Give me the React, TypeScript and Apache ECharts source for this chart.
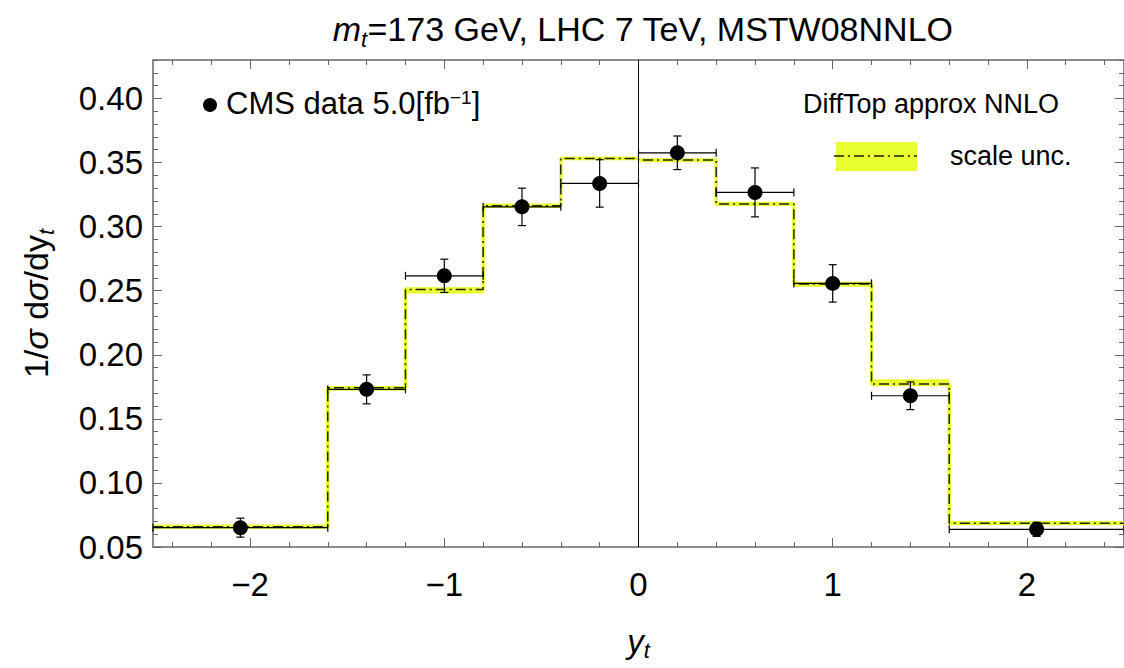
import React, { useEffect, useRef } from 'react';
import * as echarts from 'echarts';

// ---- data ----
const binEdges = [-2.5, -1.6, -1.2, -0.8, -0.4, 0, 0.4, 0.8, 1.2, 1.6, 2.5];
const theoryCentral = [0.0658, 0.1743, 0.2510, 0.3162, 0.3532, 0.3519, 0.3176, 0.2552, 0.1771, 0.0685];
const theoryLow = [0.0642, 0.1720, 0.2479, 0.3147, 0.3519, 0.3503, 0.3160, 0.2530, 0.1755, 0.0669];
const theoryHigh = [0.0676, 0.1756, 0.2526, 0.3181, 0.3545, 0.3530, 0.3193, 0.2569, 0.1808, 0.0703];
const dataX = [-2.05, -1.4, -1.0, -0.6, -0.2, 0.2, 0.6, 1.0, 1.4, 2.05];
const dataY = [0.0651, 0.1730, 0.2616, 0.3154, 0.3337, 0.3576, 0.3267, 0.2557, 0.1680, 0.0638];
const dataErr = [0.0074, 0.0113, 0.0130, 0.0146, 0.0185, 0.0131, 0.0191, 0.0146, 0.0108, 0.0055];
const xMajorTicks = [-2, -1, 0, 1, 2];
const yMajorTicks = [0.05, 0.10, 0.15, 0.20, 0.25, 0.30, 0.35, 0.40];
const xMinorTicks: number[] = [];
for (let i = -12; i <= 12; i++) xMinorTicks.push(+(i * 0.2).toFixed(2));
const yMinorTicks: number[] = [];
for (let i = 5; i <= 43; i++) yMinorTicks.push(+(i * 0.01).toFixed(2));

const X_MIN = -2.5, X_MAX = 2.5, Y_MIN = 0.05, Y_MAX = 0.43;
const FONT = "'Liberation Sans', Arial, Helvetica, sans-serif";
const YELLOW = '#eaff2e';
const FRAME = '#666666';
const DASHDOT = [10, 4, 2, 4];

function makeX(position: string, major: boolean, labels: boolean, extra: any = {}) {
  return {
    type: 'value', min: X_MIN, max: X_MAX, position, gridIndex: 0,
    axisLine: { show: major, onZero: false, lineStyle: { color: FRAME, width: 1.5 } },
    axisTick: { show: true, inside: true, length: major ? 9 : 5, customValues: major ? xMajorTicks : xMinorTicks, lineStyle: { color: FRAME, width: 1 } },
    axisLabel: labels ? {
      show: true, customValues: xMajorTicks, fontSize: 33, fontFamily: FONT, color: '#000', margin: 21,
      formatter: (v: number) => (v < 0 ? '\u2212' + Math.abs(v) : String(v)),
    } : { show: false },
    splitLine: { show: false },
    ...extra,
  };
}
function makeY(position: string, major: boolean, labels: boolean, extra: any = {}) {
  return {
    type: 'value', min: Y_MIN, max: Y_MAX, position, gridIndex: 0,
    axisLine: { show: major, onZero: false, lineStyle: { color: FRAME, width: 1.5 } },
    axisTick: { show: true, inside: true, length: major ? 9 : 5, customValues: major ? yMajorTicks : yMinorTicks, lineStyle: { color: FRAME, width: 1 } },
    axisLabel: labels ? {
      show: true, customValues: yMajorTicks, fontSize: 33, fontFamily: FONT, color: '#000', margin: 10,
      formatter: (v: number) => v.toFixed(2),
    } : { show: false },
    splitLine: { show: false },
    ...extra,
  };
}

export default function App() {
  const ref = useRef<HTMLDivElement>(null);
  useEffect(() => {
    if (!ref.current) return;
    const chart = echarts.init(ref.current, undefined, { renderer: 'svg' });

    const stepPts: number[][] = [];
    theoryCentral.forEach((v, i) => {
      stepPts.push([binEdges[i], v]);
      stepPts.push([binEdges[i + 1], v]);
    });
    const bandData = theoryCentral.map((_, i) => [binEdges[i], binEdges[i + 1], theoryLow[i], theoryHigh[i]]);
    const errData = dataX.map((x, i) => [x, dataY[i], dataErr[i], binEdges[i], binEdges[i + 1]]);
    const pts = dataX.map((x, i) => [x, dataY[i]]);

    const option: any = {
      animation: false,
      grid: { left: 153, top: 60, width: 972, height: 487, containLabel: false },
      xAxis: [
        makeX('bottom', true, true, {
          name: '{i|y}{sub|t}', nameLocation: 'middle', nameGap: 78,
          nameTextStyle: {
            fontFamily: FONT, fontSize: 33, color: '#000',
            rich: {
              i: { fontFamily: FONT, fontSize: 33, fontStyle: 'italic', lineHeight: 36, verticalAlign: 'top' },
              sub: { fontFamily: FONT, fontSize: 22, fontStyle: 'italic', lineHeight: 16, verticalAlign: 'bottom' },
            },
          },
        }),
        makeX('bottom', false, false),
        makeX('top', true, false),
        makeX('top', false, false),
      ],
      yAxis: [
        makeY('left', true, true, {
          name: '{a|1/}{s|\u03c3}{a| d}{s|\u03c3}{a|/dy}{sub|t}', nameLocation: 'middle', nameGap: 96, nameRotate: 90,
          nameTextStyle: {
            fontFamily: FONT, fontSize: 34, color: '#000',
            rich: {
              a: { fontFamily: FONT, fontSize: 34, lineHeight: 38, verticalAlign: 'top' },
              s: { fontFamily: FONT, fontSize: 34, fontStyle: 'italic', lineHeight: 38, verticalAlign: 'top' },
              sub: { fontFamily: FONT, fontSize: 22, fontStyle: 'italic', lineHeight: 17, verticalAlign: 'bottom' },
            },
          },
        }),
        makeY('left', false, false),
        makeY('right', true, false),
        makeY('right', false, false),
      ],
      graphic: [
        {
          type: 'text', x: 643, y: 31, z: 10,
          style: {
            text: '{i|m}{sub|t}{a|=173 GeV, LHC 7 TeV, MSTW08NNLO}',
            align: 'center', verticalAlign: 'middle', fill: '#000',
            fontFamily: FONT, fontSize: 34,
            rich: {
              i: { fontFamily: FONT, fontSize: 34, fontStyle: 'italic', lineHeight: 38, verticalAlign: 'top' },
              sub: { fontFamily: FONT, fontSize: 22, fontStyle: 'italic', lineHeight: 17, verticalAlign: 'bottom' },
              a: { fontFamily: FONT, fontSize: 34, lineHeight: 38, verticalAlign: 'top' },
            },
          },
        },
        { type: 'circle', shape: { cx: 210, cy: 105, r: 7 }, style: { fill: '#000' }, z: 10 },
        {
          type: 'text', x: 226, y: 106, z: 10,
          style: {
            text: '{a|CMS data 5.0[fb}{sup|\u22121}{a|]}',
            align: 'left', verticalAlign: 'middle', fill: '#000',
            fontFamily: FONT, fontSize: 31,
            rich: {
              a: { fontFamily: FONT, fontSize: 31, lineHeight: 36, verticalAlign: 'top' },
              sup: { fontFamily: FONT, fontSize: 19, lineHeight: 14, verticalAlign: 'top' },
            },
          },
        },
        {
          type: 'text', x: 931, y: 104, z: 10,
          style: { text: 'DiffTop approx NNLO', align: 'center', verticalAlign: 'middle', fill: '#000', fontFamily: FONT, fontSize: 27 },
        },
        { type: 'rect', shape: { x: 836, y: 142, width: 81, height: 29 }, style: { fill: YELLOW }, z: 10 },
        { type: 'line', shape: { x1: 834, y1: 156, x2: 917, y2: 156 }, style: { stroke: '#1a1a1a', lineWidth: 1.5, lineDash: DASHDOT }, z: 11 },
        {
          type: 'text', x: 950, y: 156, z: 10,
          style: { text: 'scale unc.', align: 'left', verticalAlign: 'middle', fill: '#000', fontFamily: FONT, fontSize: 27 },
        },
      ],
      series: [
        {
          type: 'custom', xAxisIndex: 0, yAxisIndex: 0, z: 1, silent: true,
          data: bandData,
          renderItem: (params: any, api: any) => {
            const a = api.coord([api.value(0), api.value(3)]);
            const b = api.coord([api.value(1), api.value(2)]);
            return { type: 'rect', shape: { x: a[0], y: a[1], width: b[0] - a[0], height: b[1] - a[1] }, style: { fill: YELLOW } };
          },
        },
        {
          type: 'line', xAxisIndex: 0, yAxisIndex: 0, z: 2, data: stepPts, showSymbol: false, symbol: 'none',
          lineStyle: { color: YELLOW, width: 3.5 },
        },
        {
          type: 'line', xAxisIndex: 0, yAxisIndex: 0, z: 3, data: stepPts, showSymbol: false, symbol: 'none',
          lineStyle: { color: '#222', width: 1.5, type: DASHDOT },
        },
        {
          type: 'line', xAxisIndex: 0, yAxisIndex: 0, z: 4, data: [[0, Y_MIN], [0, Y_MAX]], showSymbol: false, symbol: 'none',
          lineStyle: { color: '#111', width: 1 },
        },
        {
          type: 'custom', xAxisIndex: 0, yAxisIndex: 0, z: 5, silent: true,
          data: errData,
          renderItem: (params: any, api: any) => {
            const x = api.value(0), y = api.value(1), e = api.value(2), xl = api.value(3), xh = api.value(4);
            const c = api.coord([x, y]);
            const t = api.coord([x, y + e]);
            const bt = api.coord([x, y - e]);
            const l = api.coord([xl, y]);
            const r = api.coord([xh, y]);
            const st = { stroke: '#000', lineWidth: 1.2 };
            const cw = 4;
            return {
              type: 'group',
              children: [
                { type: 'line', shape: { x1: c[0], y1: t[1], x2: c[0], y2: bt[1] }, style: st },
                { type: 'line', shape: { x1: c[0] - cw, y1: t[1], x2: c[0] + cw, y2: t[1] }, style: st },
                { type: 'line', shape: { x1: c[0] - cw, y1: bt[1], x2: c[0] + cw, y2: bt[1] }, style: st },
                { type: 'line', shape: { x1: l[0], y1: c[1], x2: r[0], y2: c[1] }, style: st },
                { type: 'line', shape: { x1: l[0], y1: c[1] - cw, x2: l[0], y2: c[1] + cw }, style: st },
                { type: 'line', shape: { x1: r[0], y1: c[1] - cw, x2: r[0], y2: c[1] + cw }, style: st },
              ],
            };
          },
        },
        {
          type: 'scatter', xAxisIndex: 0, yAxisIndex: 0, z: 6, data: pts, symbol: 'circle', symbolSize: 15,
          itemStyle: { color: '#000', opacity: 1 },
        },
      ],
    };
    chart.setOption(option);
    return () => chart.dispose();
  }, []);
  return <div ref={ref} style={{ position: 'absolute', left: 0, top: 0, width: 1124, height: 668, background: '#fff' }} />;
}
